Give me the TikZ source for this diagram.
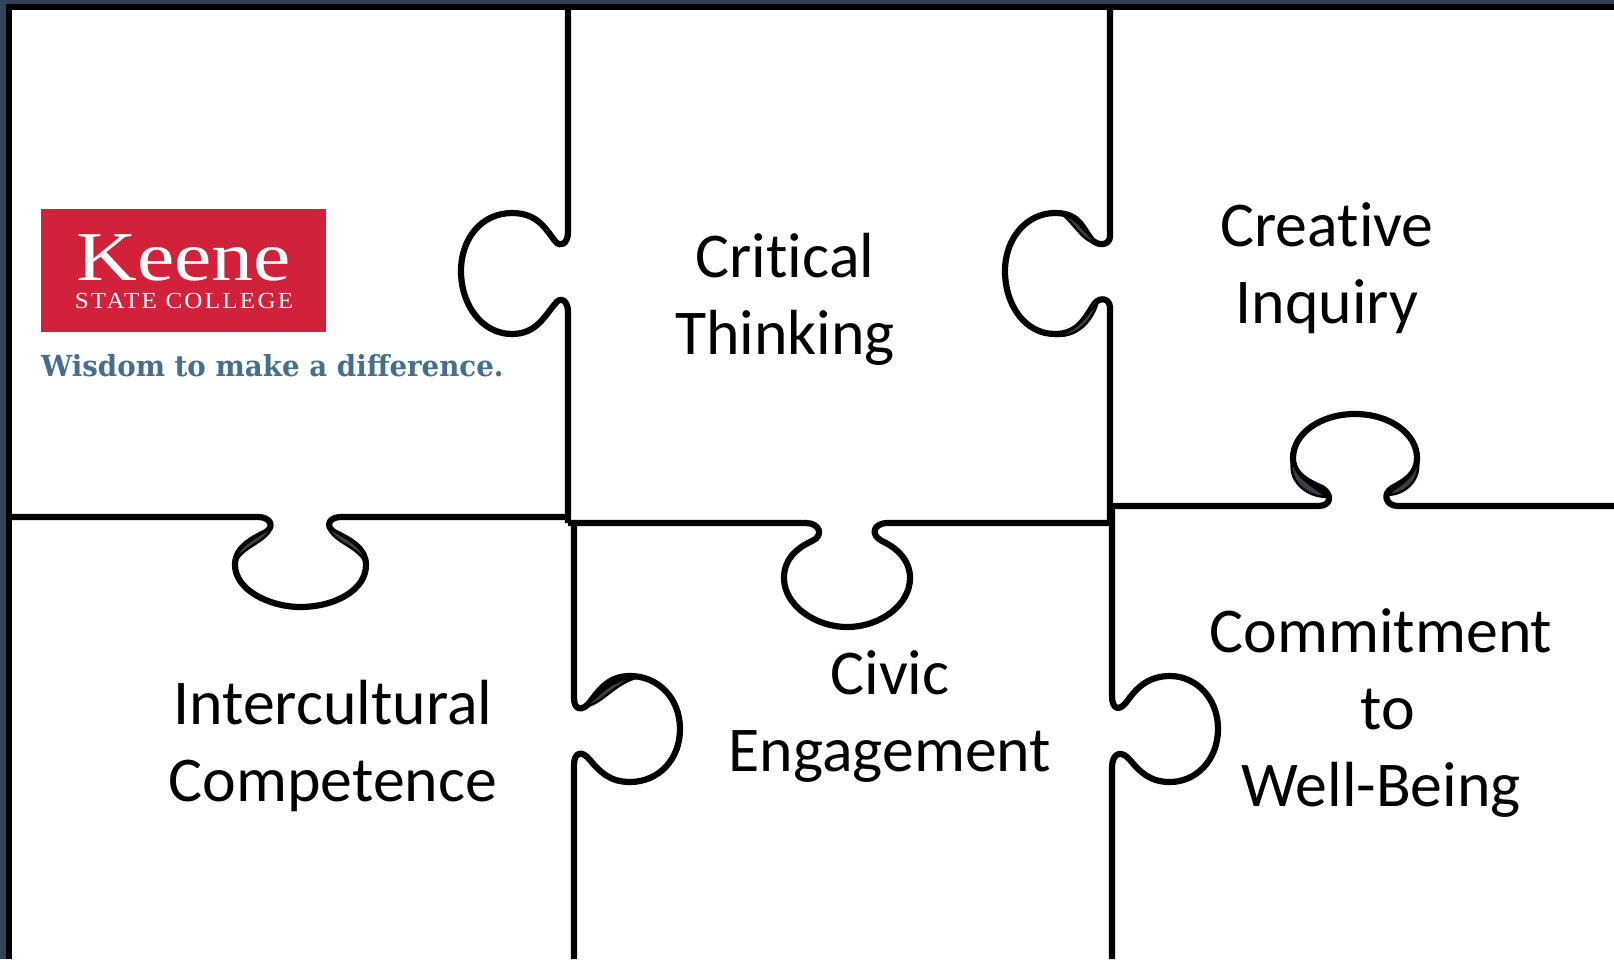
\documentclass[tikz,border=0pt]{standalone}
\usepackage{fontspec}
\setmainfont{Carlito}[Ligatures=NoCommon]
\newfontfamily\logoserif{Liberation Serif}
\newfontfamily\logospaced[LetterSpace=9]{Liberation Serif}
\newfontfamily\logoslab{DejaVu Serif}
\definecolor{framecolor}{HTML}{344258}
\definecolor{logored}{HTML}{D2213A}
\definecolor{logoblue}{HTML}{44708C}
\definecolor{foldgray}{HTML}{3C4048}

\begin{document}
\begin{tikzpicture}[x=1pt,y=-1pt,
		cutline/.style={draw=black,line width=6.2pt,line join=round},
		foldline/.style={fill=foldgray,draw=black,line width=2.4pt,line join=round},
		piecetext/.style={align=center,inner sep=0pt,font=\fontsize{63.8}{77}\selectfont}]
	\useasboundingbox (0,0) rectangle (1614,959);
	\fill[framecolor] (0,0) rectangle (1614,959);
	\fill[white] (9,7) rectangle (1614,959);
	\draw[line width=6pt,miter limit=10] (9,959) -- (9,7) -- (1614,7);
	% logo
	\fill[logored] (41,209) rectangle (326,332);
	\node[anchor=base,inner sep=0pt,text=white,font=\logoserif\fontsize{70}{70}\selectfont] (keene) at (184,280) {\scalebox{1.2}[1]{Keene}};
	\node[anchor=base,inner sep=0pt,text=white,font=\logospaced\fontsize{23}{23}\selectfont] (college) at (184,308) {\scalebox{1.09}[1]{STATE COLLEGE}};
	\node[anchor=base west,inner sep=0pt,text=logoblue,font=\logoslab\bfseries\fontsize{29}{29}\selectfont] (motto) at (41,376) {\scalebox{0.955}[1]{Wisdom to make a difference.}};
	% cut lines
	\draw[cutline] (568,7) -- (568,232) .. controls (568,244) and (560,248) .. (555,241)
		.. controls (545,228) and (537,213) .. (512,213)
		.. controls (482,213) and (461,238) .. (461,271)
		.. controls (461,305) and (482,334) .. (512,334)
		.. controls (537,334) and (545,315) .. (555,304)
		.. controls (560,296) and (568,300) .. (568,312) -- (568,523);
	\draw[cutline] (9,517) -- (258,517) .. controls (270,517) and (275,526) .. (266,532)
		.. controls (250,540) and (235,548) .. (235,565)
		.. controls (235,590) and (270,607) .. (300,607)
		.. controls (335,607) and (366,590) .. (366,565)
		.. controls (366,548) and (350,540) .. (334,532)
		.. controls (325,526) and (329,517) .. (341,517) -- (568,517);
	\draw[cutline] (574,523) -- (574,698) .. controls (574,710) and (582,712) .. (590,702)
		.. controls (600,688) and (610,676) .. (630,676)
		.. controls (658,676) and (680,698) .. (680,729)
		.. controls (680,760) and (658,782) .. (630,782)
		.. controls (610,782) and (600,772) .. (590,760)
		.. controls (582,750) and (574,752) .. (574,765) -- (574,959);
	\draw[cutline] (568,523) -- (806,523) .. controls (820,523) and (824,536) .. (812,541)
		.. controls (795,549) and (784,560) .. (784,578)
		.. controls (784,605) and (815,627) .. (847,627)
		.. controls (880,627) and (910,605) .. (910,578)
		.. controls (910,560) and (897,548) .. (882,541)
		.. controls (870,535) and (873,523) .. (888,523) -- (1110,523);
	\draw[cutline] (1110,7) -- (1110,236) .. controls (1110,246) and (1098,246) .. (1092,240)
		.. controls (1082,228) and (1080,213) .. (1055,213)
		.. controls (1027,213) and (1005,238) .. (1005,271)
		.. controls (1005,305) and (1025,334) .. (1055,334)
		.. controls (1080,334) and (1086,315) .. (1095,303)
		.. controls (1100,297) and (1110,298) .. (1110,308) -- (1110,523);
	\draw[cutline] (1112,506) -- (1318,506) .. controls (1332,506) and (1332,494) .. (1322,488)
		.. controls (1306,481) and (1293,474) .. (1293,458)
		.. controls (1293,434) and (1320,414) .. (1355,414)
		.. controls (1390,414) and (1417,434) .. (1417,458)
		.. controls (1417,474) and (1405,481) .. (1392,488)
		.. controls (1382,494) and (1386,506) .. (1398,506) -- (1614,506);
	\draw[cutline] (1112,506) -- (1112,696) .. controls (1112,710) and (1120,712) .. (1128,700)
		.. controls (1138,686) and (1150,676) .. (1170,676)
		.. controls (1196,676) and (1218,698) .. (1218,729)
		.. controls (1218,760) and (1196,782) .. (1170,782)
		.. controls (1150,782) and (1140,772) .. (1130,760)
		.. controls (1122,750) and (1112,752) .. (1112,768) -- (1112,959);
	% thick folds on the knobs
	\draw[foldline] (1062,214) .. controls (1078,218) and (1084,232) .. (1097,243) .. controls (1084,243) and (1076,226) .. (1062,214) -- cycle;
	\draw[foldline] (1050,335) .. controls (1076,335) and (1086,315) .. (1098,301) .. controls (1094,318) and (1078,341) .. (1050,335) -- cycle;
	\draw[foldline] (1293,458) .. controls (1293,474) and (1306,481) .. (1327,497) .. controls (1306,497) and (1286,480) .. (1293,458) -- cycle;
	\draw[foldline] (1417,458) .. controls (1417,474) and (1405,481) .. (1387,495) .. controls (1406,495) and (1423,478) .. (1417,458) -- cycle;
	\draw[foldline] (235,565) .. controls (235,548) and (250,540) .. (271,528) .. controls (268,542) and (238,548) .. (235,565) -- cycle;
	\draw[foldline] (366,565) .. controls (366,548) and (350,540) .. (329,528) .. controls (332,542) and (362,548) .. (366,565) -- cycle;
	\draw[foldline] (582,707) .. controls (598,700) and (606,678) .. (640,677) .. controls (614,682) and (602,706) .. (582,707) -- cycle;
	% piece names
	\node[piecetext] (critical) at (785,299) {Critical\\Thinking};
	\node[piecetext] (creative) at (1327,268) {Creative\\Inquiry};
	\node[piecetext] (intercultural) at (333,746) {Intercultural\\Competence};
	\node[piecetext] (civic) at (890,717) {Civic\\Engagement};
	\node[piecetext] (commitment) at (1381,713) {Commitment\\\hspace*{14pt}to\\Well-Being};
\end{tikzpicture}
\end{document}
